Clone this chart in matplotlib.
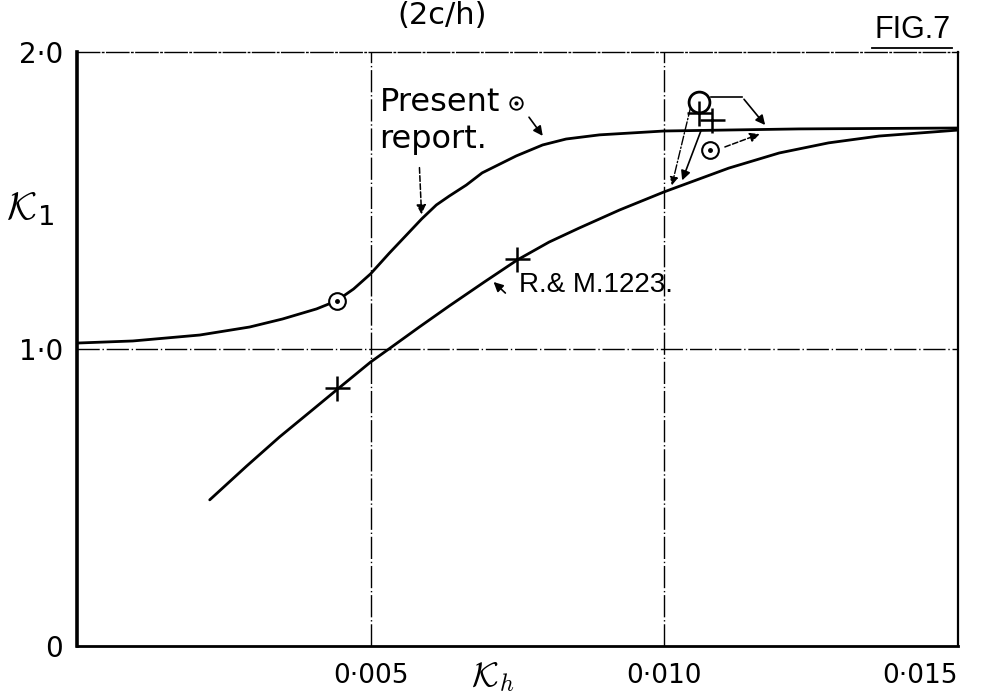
import matplotlib
matplotlib.use("Agg")
import matplotlib.pyplot as plt
from matplotlib.lines import Line2D

plt.rcParams['mathtext.fontset'] = 'cm'

# ---- data ----
present_x = [0.0, 0.00095, 0.00209, 0.00294, 0.0035, 0.00408, 0.00442, 0.00471,
             0.005, 0.00532, 0.00566, 0.00587, 0.00612, 0.00634, 0.00663, 0.0069,
             0.00748, 0.00793, 0.00833, 0.0089, 0.00975, 0.010, 0.0123, 0.015]
present_y = [1.020, 1.027, 1.047, 1.074, 1.101, 1.135, 1.162, 1.202,
             1.253, 1.323, 1.394, 1.438, 1.485, 1.515, 1.552, 1.593,
             1.650, 1.687, 1.707, 1.721, 1.731, 1.734, 1.741, 1.744]

rm_x = [0.00226, 0.00289, 0.00345, 0.00401, 0.00442, 0.005, 0.00529, 0.00583,
        0.00634, 0.00694, 0.0075, 0.00804, 0.00855, 0.00924, 0.010, 0.0111,
        0.01196, 0.0128, 0.01366, 0.015]
rm_y = [0.492, 0.606, 0.704, 0.795, 0.862, 0.956, 0.997, 1.074,
        1.145, 1.226, 1.300, 1.360, 1.407, 1.468, 1.529, 1.609,
        1.660, 1.694, 1.717, 1.737]

circle_dot_x = [0.00442, 0.01078]
circle_dot_y = [1.162, 1.67]
big_circle_x = [0.0106]
big_circle_y = [1.832]
plus_x = [0.00442, 0.0075, 0.0106, 0.01082]
plus_y = [0.870, 1.303, 1.795, 1.772]

xticks = [0.005, 0.010, 0.015]
xtick_labels = ['0·005', '0·010', '0·015']
yticks = [0.0, 1.0, 2.0]
ytick_labels = ['0', '1·0', '2·0']

# ---- figure ----
fig = plt.figure(figsize=(9.94, 6.97), dpi=100)
ax = fig.add_axes([0.0775, 0.0732, 0.886, 0.8522])
ax.set_xlim(0, 0.015)
ax.set_ylim(0, 2.0)

# grid lines
for gx in [0.005, 0.010]:
    ax.axvline(gx, color='black', lw=1.0, ls=(0, (16, 2, 1, 2)), zorder=1)
ax.axhline(1.0, color='black', lw=1.0, ls=(0, (16, 2, 1, 2)), zorder=1)

# spines
ax.spines['left'].set_linewidth(2.6)
ax.spines['bottom'].set_linewidth(2.0)
ax.spines['right'].set_linewidth(1.6)
ax.spines['top'].set_linewidth(1.0)
ax.spines['top'].set_linestyle((0, (16, 2, 1, 2)))

# curves
ax.plot(present_x, present_y, color='black', lw=2.0, solid_capstyle='round',
        solid_joinstyle='round', zorder=3)
ax.plot(rm_x, rm_y, color='black', lw=2.0, solid_capstyle='round',
        solid_joinstyle='round', zorder=3)

# markers
ax.plot(circle_dot_x, circle_dot_y, 'o', ms=12, mfc='white', mec='black', mew=1.5, zorder=5)
ax.plot(circle_dot_x, circle_dot_y, 'o', ms=2.5, color='black', zorder=6)
ax.plot(big_circle_x, big_circle_y, 'o', ms=15, mfc='none', mec='black', mew=2.0, zorder=5)
ax.plot(plus_x, plus_y, '+', ms=18, color='black', mew=1.8, zorder=6)

# ticks
ax.set_xticks(xticks)
ax.set_xticklabels(xtick_labels, family='DejaVu Sans', fontsize=19)
ax.set_yticks(yticks)
ax.set_yticklabels(ytick_labels, family='DejaVu Sans', fontsize=20)
ax.tick_params(axis='both', length=0)
ax.tick_params(axis='x', pad=12)
ax.tick_params(axis='y', pad=10)
xl = ax.get_xticklabels()
xl[-1].set_horizontalalignment('right')

# axis labels
fig.text(0.030, 0.70, r'$\mathcal{K}_{\mathregular{1}}$', fontsize=28, ha='center', va='center')
fig.text(0.496, 0.004, r'$\mathcal{K}_{h}$', fontsize=25, ha='center', va='bottom')

# texts
ax.text(0.00515, 1.83, 'Present', fontsize=23, family='DejaVu Sans',
        ha='left', va='center')
ax.plot([0.00748], [1.828], 'o', ms=9, mfc='white', mec='black', mew=1.3, zorder=5)
ax.plot([0.00748], [1.828], 'o', ms=2, color='black', zorder=6)
ax.text(0.00515, 1.705, 'report.', fontsize=23, family='DejaVu Sans',
        ha='left', va='center')
ax.text(0.00752, 1.215, 'R.& M.1223.', fontsize=20, family='Liberation Sans',
        ha='left', va='center')

arrow_kw = dict(arrowstyle='-|>', color='black', lw=1.2, mutation_scale=14)
ax.annotate('', xy=(0.00796, 1.71), xytext=(0.00767, 1.788), arrowprops=arrow_kw)
ax.annotate('', xy=(0.00587, 1.444), xytext=(0.00583, 1.62),
            arrowprops=dict(arrowstyle='-|>', color='black', lw=1.1, ls='--', mutation_scale=14))
ax.annotate('', xy=(0.00706, 1.232), xytext=(0.00733, 1.182), arrowprops=arrow_kw)
ax.plot([0.0108, 0.01133], [1.848, 1.848], color='black', lw=1.2)
ax.annotate('', xy=(0.01175, 1.747), xytext=(0.01133, 1.848), arrowprops=arrow_kw)
ax.annotate('', xy=(0.01167, 1.727), xytext=(0.01099, 1.677),
            arrowprops=dict(arrowstyle='-|>', color='black', lw=1.1, ls='--', mutation_scale=14))
ax.annotate('', xy=(0.01012, 1.542), xytext=(0.01046, 1.822),
            arrowprops=dict(arrowstyle='-|>', color='black', lw=1.0, ls='-.', mutation_scale=12))
ax.annotate('', xy=(0.01029, 1.559), xytext=(0.01065, 1.747), arrowprops=arrow_kw)

# figure title fragment and figure number
fig.text(0.445, 0.999, '(2c/h)', fontsize=22, ha='center', va='top',
         family='DejaVu Sans')
fig.text(0.918, 0.957, 'FIG.7', fontsize=22, ha='center', va='center',
         family='Liberation Sans')
fig.add_artist(Line2D([0.877, 0.958], [0.931, 0.931], color='black', lw=1.3,
                      transform=fig.transFigure))

fig.savefig('out.png', dpi=100)
